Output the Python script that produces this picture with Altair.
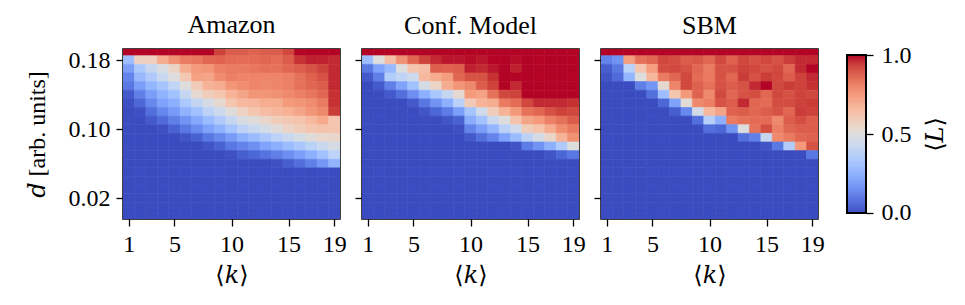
import altair as alt
import numpy as np
import pandas as pd

FONT = "Liberation Serif, DejaVu Serif, serif"

# mean degree <k> (columns) and distance d (rows, top to bottom)
k_values = list(range(1, 20))
d_values = [0.19, 0.18, 0.17, 0.16, 0.15, 0.14, 0.13, 0.12, 0.11, 0.10,
            0.09, 0.08, 0.07, 0.06, 0.05, 0.04, 0.03, 0.02, 0.01, 0.00]

# <L> for the Amazon network
amazon = [
    [1.00, 1.00, 1.00, 1.00, 1.00, 1.00, 1.00, 1.00, 0.93, 0.88, 0.88, 0.87, 0.88, 0.88, 0.92, 1.00, 1.00, 1.00, 1.00],
    [0.30, 0.57, 0.58, 0.70, 0.77, 0.82, 0.83, 0.86, 0.87, 0.85, 0.85, 0.85, 0.86, 0.85, 0.88, 0.95, 0.97, 0.97, 0.96],
    [0.20, 0.34, 0.42, 0.48, 0.56, 0.70, 0.75, 0.76, 0.81, 0.82, 0.82, 0.83, 0.84, 0.84, 0.86, 0.88, 0.90, 0.93, 0.96],
    [0.13, 0.28, 0.35, 0.43, 0.50, 0.61, 0.73, 0.72, 0.78, 0.81, 0.80, 0.80, 0.80, 0.80, 0.81, 0.84, 0.87, 0.90, 0.96],
    [0.10, 0.20, 0.27, 0.32, 0.40, 0.50, 0.60, 0.68, 0.70, 0.76, 0.78, 0.80, 0.79, 0.80, 0.81, 0.84, 0.86, 0.88, 0.96],
    [0.03, 0.12, 0.20, 0.26, 0.31, 0.42, 0.53, 0.59, 0.62, 0.68, 0.72, 0.76, 0.76, 0.77, 0.79, 0.81, 0.83, 0.86, 0.95],
    [0.01, 0.06, 0.14, 0.21, 0.25, 0.34, 0.41, 0.47, 0.53, 0.62, 0.66, 0.67, 0.70, 0.70, 0.75, 0.76, 0.78, 0.82, 0.95],
    [0.00, 0.01, 0.08, 0.14, 0.19, 0.26, 0.31, 0.39, 0.44, 0.51, 0.57, 0.62, 0.65, 0.67, 0.69, 0.72, 0.76, 0.79, 0.94],
    [0.00, 0.00, 0.03, 0.07, 0.12, 0.17, 0.23, 0.29, 0.35, 0.42, 0.48, 0.51, 0.55, 0.59, 0.61, 0.63, 0.66, 0.71, 0.62],
    [0.00, 0.00, 0.00, 0.01, 0.05, 0.10, 0.15, 0.21, 0.26, 0.32, 0.39, 0.43, 0.47, 0.51, 0.56, 0.59, 0.62, 0.63, 0.62],
    [0.00, 0.00, 0.00, 0.00, 0.00, 0.02, 0.05, 0.10, 0.14, 0.19, 0.25, 0.29, 0.34, 0.39, 0.43, 0.47, 0.51, 0.54, 0.55],
    [0.00, 0.00, 0.00, 0.00, 0.00, 0.00, 0.00, 0.02, 0.05, 0.10, 0.13, 0.16, 0.21, 0.25, 0.29, 0.33, 0.38, 0.43, 0.47],
    [0.00, 0.00, 0.00, 0.00, 0.00, 0.00, 0.00, 0.00, 0.00, 0.01, 0.04, 0.06, 0.09, 0.12, 0.16, 0.20, 0.25, 0.31, 0.39],
    [0.00, 0.00, 0.00, 0.00, 0.00, 0.00, 0.00, 0.00, 0.00, 0.00, 0.00, 0.00, 0.00, 0.01, 0.04, 0.08, 0.12, 0.18, 0.26],
    [0.0] * 19,
    [0.0] * 19,
    [0.0] * 19,
    [0.0] * 19,
    [0.0] * 19,
    [0.0] * 19,
]

# <L> for the configuration model
conf_model = [
    [1.00, 1.00, 1.00, 1.00, 1.00, 1.00, 1.00, 1.00, 1.00, 1.00, 1.00, 1.00, 1.00, 1.00, 1.00, 1.00, 1.00, 1.00, 1.00],
    [0.30, 0.50, 0.64, 0.77, 0.86, 0.93, 0.96, 0.98, 0.98, 0.99, 0.98, 1.00, 1.00, 0.99, 1.00, 1.00, 1.00, 1.00, 1.00],
    [0.10, 0.21, 0.28, 0.50, 0.62, 0.64, 0.88, 0.87, 0.88, 0.97, 0.96, 0.98, 1.00, 0.97, 1.00, 1.00, 1.00, 1.00, 1.00],
    [0.03, 0.12, 0.36, 0.40, 0.44, 0.66, 0.70, 0.74, 0.86, 0.90, 0.90, 0.95, 1.00, 1.00, 1.00, 1.00, 1.00, 1.00, 1.00],
    [0.00, 0.03, 0.12, 0.21, 0.31, 0.47, 0.56, 0.70, 0.76, 0.79, 0.88, 0.93, 1.00, 0.96, 1.00, 1.00, 1.00, 1.00, 1.00],
    [0.00, 0.00, 0.03, 0.08, 0.16, 0.25, 0.33, 0.42, 0.53, 0.75, 0.73, 0.84, 0.92, 0.93, 1.00, 1.00, 1.00, 1.00, 1.00],
    [0.00, 0.00, 0.00, 0.00, 0.03, 0.10, 0.17, 0.25, 0.38, 0.60, 0.68, 0.70, 0.82, 0.85, 0.92, 0.96, 0.96, 0.96, 0.95],
    [0.00, 0.00, 0.00, 0.00, 0.00, 0.02, 0.06, 0.11, 0.20, 0.32, 0.45, 0.59, 0.68, 0.75, 0.84, 0.86, 0.90, 0.93, 0.92],
    [0.00, 0.00, 0.00, 0.00, 0.00, 0.00, 0.00, 0.02, 0.05, 0.24, 0.31, 0.43, 0.50, 0.63, 0.72, 0.75, 0.81, 0.84, 0.88],
    [0.00, 0.00, 0.00, 0.00, 0.00, 0.00, 0.00, 0.00, 0.01, 0.13, 0.20, 0.27, 0.38, 0.45, 0.59, 0.63, 0.70, 0.78, 0.82],
    [0.00, 0.00, 0.00, 0.00, 0.00, 0.00, 0.00, 0.00, 0.00, 0.03, 0.08, 0.13, 0.21, 0.29, 0.39, 0.47, 0.55, 0.68, 0.77],
    [0.00, 0.00, 0.00, 0.00, 0.00, 0.00, 0.00, 0.00, 0.00, 0.00, 0.00, 0.00, 0.00, 0.02, 0.11, 0.17, 0.25, 0.35, 0.50],
    [0.00, 0.00, 0.00, 0.00, 0.00, 0.00, 0.00, 0.00, 0.00, 0.00, 0.00, 0.00, 0.00, 0.00, 0.00, 0.00, 0.02, 0.06, 0.10],
    [0.0] * 19,
    [0.0] * 19,
    [0.0] * 19,
    [0.0] * 19,
    [0.0] * 19,
    [0.0] * 19,
    [0.0] * 19,
]

# <L> for the stochastic block model
sbm = [
    [1.00, 1.00, 1.00, 1.00, 1.00, 1.00, 1.00, 1.00, 1.00, 1.00, 1.00, 1.00, 1.00, 1.00, 1.00, 1.00, 1.00, 1.00, 1.00],
    [0.13, 0.17, 0.74, 0.84, 0.86, 0.92, 0.91, 0.88, 0.89, 0.86, 0.92, 0.87, 0.92, 0.90, 0.92, 0.90, 0.94, 0.96, 0.96],
    [0.04, 0.10, 0.38, 0.62, 0.74, 0.91, 0.92, 0.90, 0.86, 0.82, 0.90, 0.90, 0.93, 0.92, 0.90, 0.92, 0.86, 0.96, 1.00],
    [0.02, 0.07, 0.27, 0.50, 0.67, 0.82, 0.86, 0.92, 0.85, 0.82, 0.90, 0.86, 0.94, 0.90, 0.94, 0.92, 0.88, 0.93, 0.96],
    [0.00, 0.00, 0.00, 0.12, 0.18, 0.53, 0.80, 0.92, 0.87, 0.84, 0.90, 0.88, 0.90, 0.96, 1.00, 0.92, 0.94, 0.93, 0.95],
    [0.00, 0.00, 0.00, 0.00, 0.08, 0.30, 0.62, 0.75, 0.87, 0.79, 0.92, 0.86, 0.90, 0.91, 0.86, 0.92, 0.90, 0.93, 0.92],
    [0.00, 0.00, 0.00, 0.00, 0.00, 0.06, 0.21, 0.52, 0.79, 0.81, 0.90, 0.88, 0.96, 0.86, 0.85, 0.91, 0.91, 0.93, 0.94],
    [0.00, 0.00, 0.00, 0.00, 0.00, 0.00, 0.04, 0.14, 0.46, 0.66, 0.72, 0.87, 0.88, 0.86, 0.88, 0.90, 0.86, 0.94, 0.93],
    [0.00, 0.00, 0.00, 0.00, 0.00, 0.00, 0.00, 0.00, 0.08, 0.37, 0.25, 0.82, 0.84, 0.85, 0.85, 0.79, 0.88, 0.91, 0.88],
    [0.00, 0.00, 0.00, 0.00, 0.00, 0.00, 0.00, 0.00, 0.00, 0.08, 0.06, 0.17, 0.50, 0.84, 0.91, 0.81, 0.86, 0.88, 0.88],
    [0.00, 0.00, 0.00, 0.00, 0.00, 0.00, 0.00, 0.00, 0.00, 0.00, 0.00, 0.00, 0.08, 0.12, 0.42, 0.79, 0.82, 0.86, 0.87],
    [0.00, 0.00, 0.00, 0.00, 0.00, 0.00, 0.00, 0.00, 0.00, 0.00, 0.00, 0.00, 0.00, 0.00, 0.02, 0.10, 0.36, 0.75, 0.90],
    [0.00, 0.00, 0.00, 0.00, 0.00, 0.00, 0.00, 0.00, 0.00, 0.00, 0.00, 0.00, 0.00, 0.00, 0.00, 0.00, 0.00, 0.00, 0.10],
    [0.0] * 19,
    [0.0] * 19,
    [0.0] * 19,
    [0.0] * 19,
    [0.0] * 19,
    [0.0] * 19,
    [0.0] * 19,
]

panel_names = ["Amazon", "Conf. Model", "SBM"]
panel_values = [amazon, conf_model, sbm]

x_ticks = [1, 5, 10, 15, 19]
y_ticks = [0.02, 0.10, 0.18]
bar_ticks = [0.0, 0.5, 1.0]

# matplotlib "coolwarm" sampled at 17 evenly spaced stops
coolwarm = ["#3b4cc0", "#4d68d7", "#6282ea", "#779af7", "#8db0fe", "#a3c2ff",
            "#b8d0f9", "#ccd9ee", "#dddddd", "#ecd3c5", "#f5c4ad", "#f7b194",
            "#f49a7b", "#ec7f63", "#de604d", "#cb3e38", "#b40426"]
stops = [i / (len(coolwarm) - 1) for i in range(len(coolwarm))]
color_scale = alt.Scale(domain=stops, range=coolwarm, interpolate="rgb")

D_STEP = 0.01
Y_DOMAIN = [-0.0043, 0.1928]
PANEL_W, PANEL_H = 217, 170


def panel_frame(matrix):
    rows = []
    for d, row in zip(d_values, matrix):
        for k, val in zip(k_values, row):
            rows.append({"k0": k - 0.5, "k1": k + 0.5,
                         "d0": d - D_STEP / 2, "d1": d + D_STEP / 2, "L": val})
    return pd.DataFrame(rows)


def heatmap(name, matrix, first):
    if first:
        y_axis = alt.Axis(values=y_ticks, format=".2f", title="𝑑 [arb. units]",
                          titlePadding=19)
    else:
        y_axis = alt.Axis(values=y_ticks, labels=False, title=None)
    return alt.Chart(panel_frame(matrix), title=alt.TitleParams(name, offset=10)).mark_rect(
        clip=True, strokeWidth=0.6
    ).encode(
        x=alt.X("k0:Q", scale=alt.Scale(domain=[0.5, 19.5], nice=False, zero=False),
                axis=alt.Axis(values=x_ticks, format="d", title="⟨𝑘⟩", titlePadding=7)),
        x2="k1:Q",
        y=alt.Y("d0:Q", scale=alt.Scale(domain=Y_DOMAIN, nice=False, zero=False), axis=y_axis),
        y2="d1:Q",
        color=alt.Color("L:Q", scale=color_scale, legend=None),
        stroke=alt.Stroke("L:Q", scale=color_scale, legend=None),
    ).properties(width=PANEL_W, height=PANEL_H)


panels = [heatmap(n, m, i == 0) for i, (n, m) in enumerate(zip(panel_names, panel_values))]

# colour bar: thin stripes coloured through the same scale
bar_levels = np.linspace(0.0, 1.0, 201)
bar_df = pd.DataFrame({"v0": bar_levels[:-1], "v1": bar_levels[1:],
                       "v": (bar_levels[:-1] + bar_levels[1:]) / 2})
bar_scale = alt.Scale(domain=[-0.038, 1.038], nice=False, zero=False)

bar_fill = alt.Chart(bar_df).mark_rect(strokeWidth=0.6).encode(
    x=alt.value(7), x2=alt.value(26),
    y=alt.Y("v0:Q", scale=bar_scale,
            axis=alt.Axis(orient="right", values=bar_ticks, format=".1f", title="⟨𝐿⟩",
                          titleAngle=270, titleBaseline="top", titlePadding=12,
                          labelPadding=8)),
    y2="v1:Q",
    color=alt.Color("v:Q", scale=color_scale, legend=None),
    stroke=alt.Stroke("v:Q", scale=color_scale, legend=None),
)
bar_frame = alt.Chart(bar_df).mark_rect(fillOpacity=0, stroke="black", strokeWidth=1.3).encode(
    x=alt.value(7), x2=alt.value(26),
    y=alt.datum(0.0), y2=alt.datum(1.0),
)
colorbar = alt.layer(bar_fill, bar_frame).properties(
    width=26, height=PANEL_H, view=alt.ViewBackground(strokeWidth=0)
)

chart = alt.hconcat(*panels, colorbar, spacing=22, bounds="flush").properties(
    padding={"left": 24, "top": 11, "right": 4, "bottom": 4}
).configure_view(
    stroke="black", strokeWidth=1.5
).configure_axis(
    domain=False, grid=False, tickColor="black", tickWidth=1.3, tickSize=7,
    labelFont=FONT, labelFontSize=24, labelColor="black", labelPadding=6,
    titleFont=FONT, titleFontSize=24, titleColor="black", titleFontWeight="normal",
).configure_title(
    font=FONT, fontSize=26, fontWeight="normal", color="black", anchor="middle"
)

chart.save("out.html", embed_options={"renderer": "svg", "actions": False})
